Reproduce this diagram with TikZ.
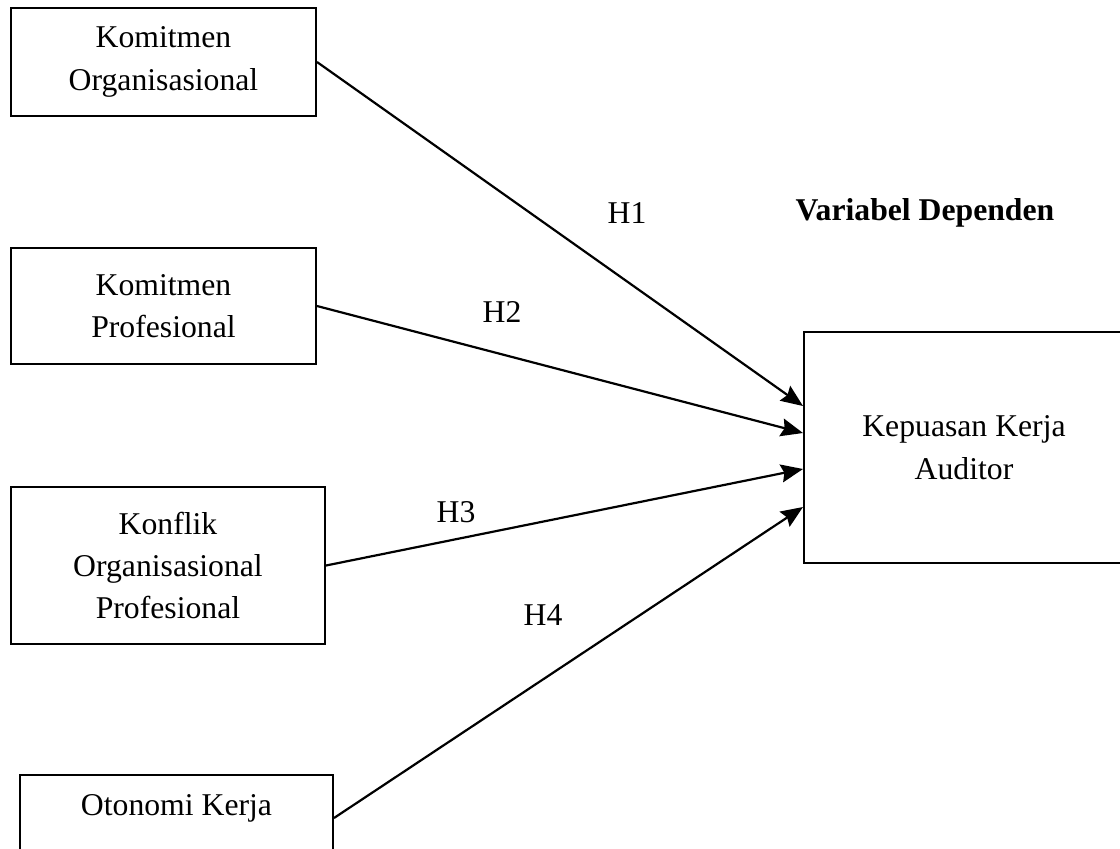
\documentclass[tikz,border=0pt]{standalone}
\usepackage{fontspec}
\setmainfont{Liberation Serif}
\usepackage{tikz}
\usetikzlibrary{arrows.meta,positioning,calc}

\begin{document}
\begin{tikzpicture}[
    x=0.5pt, y=-0.5pt,
    every node/.style={font=\fontsize{15.85pt}{21.2pt}\selectfont},
    var/.style={draw, line width=1pt, align=center, inner sep=0pt},
    hyp/.style={-{Stealth[length=11pt,width=9pt,inset=1.5pt]}, line width=1.1pt},
  ]
    \useasboundingbox (0,0) rectangle (1120,848);
    % variabel independen
    \node[var, minimum width=152.5pt, minimum height=54pt] (komorg) at (163.5,62)
      {Komitmen\\Organisasional};
    \node[var, minimum width=152.5pt, minimum height=58pt] (komprof) at (163.5,306)
      {Komitmen\\Profesional};
    \node[var, minimum width=157pt, minimum height=78.5pt] (konflik) at (168,565.5)
      {Konflik\\Organisasional\\Profesional};
    \node[var, minimum width=156.5pt, minimum height=43pt,
      text height=10.5pt, text depth=13.5pt] (otonomi) at (176.5,818)
      {Otonomi Kerja};
    % variabel dependen
    \node[var, minimum width=160pt, minimum height=115.5pt] (kepuasan) at (964,447.5)
      {Kepuasan Kerja\\Auditor};
    \node[font=\fontsize{15.85pt}{21.2pt}\selectfont\bfseries] (dependen) at (925,213)
      {Variabel Dependen};
    % hipotesis
    \draw[hyp] (komorg.east) -- ([yshift=20.75pt]kepuasan.west);
    \draw[hyp] (komprof.east) -- ([yshift=7.25pt]kepuasan.west);
    \draw[hyp] (konflik.east) -- ([yshift=-10.75pt]kepuasan.west);
    \draw[hyp] (otonomi.east) -- ([yshift=-29.75pt]kepuasan.west);
    \node (h1) at (627,213) {H1};
    \node (h2) at (502,312) {H2};
    \node (h3) at (456,512) {H3};
    \node (h4) at (543,615) {H4};
\end{tikzpicture}
\end{document}
